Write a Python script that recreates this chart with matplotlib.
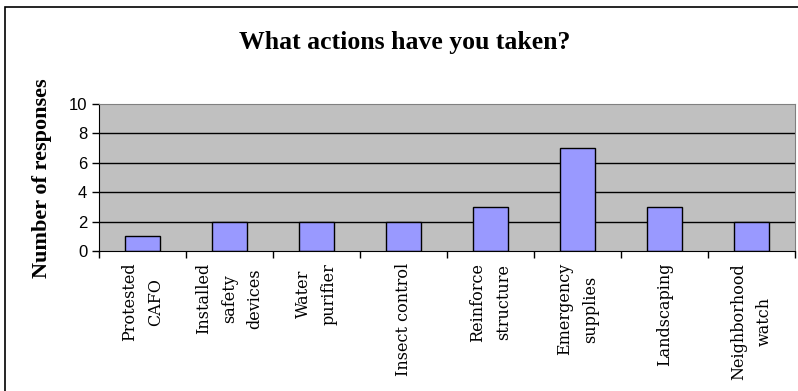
import matplotlib.pyplot as plt
from matplotlib.patches import Rectangle
import numpy as np

actions = ['Protested\nCAFO', 'Installed\nsafety\ndevices', 'Water\npurifier',
           'Insect control', 'Reinforce\nstructure', 'Emergency\nsupplies',
           'Landscaping', 'Neighborhood\nwatch']
responses = [1, 2, 2, 2, 3, 7, 3, 2]
y_ticks = [0, 2, 4, 6, 8, 10]

fig = plt.figure(figsize=(7.98, 3.91), dpi=100)
ax = fig.add_axes([99 / 798, 1 - 251 / 391, 696 / 798, 147 / 391])

# outer chart frame
fig.patches.append(Rectangle((5 / 798, -0.1), 1.0, 1 - 7 / 391 + 0.1,
                             transform=fig.transFigure, fill=False,
                             edgecolor='black', linewidth=1.2))

x = np.arange(len(actions))
ax.set_facecolor('#C0C0C0')
ax.set_xlim(-0.5, len(actions) - 0.5)
ax.set_ylim(0, 10)
for t in y_ticks[1:-1]:
    ax.axhline(t, color='black', linewidth=1, zorder=1)
ax.bar(x, responses, width=0.4, color='#9999FF', edgecolor='black',
       linewidth=1, zorder=2)

ax.set_yticks(y_ticks)
ax.set_yticklabels([str(t) for t in y_ticks], fontfamily='Liberation Sans', fontsize=12)
ax.set_xticks(np.arange(len(actions) + 1) - 0.5)
ax.set_xticklabels([])
ax.tick_params(axis='both', direction='out', length=5, width=1, color='black')

for xi, lab in zip(x, actions):
    ax.text(xi, -0.8, lab, rotation=90, ha='center', va='top',
            multialignment='center', fontfamily='DejaVu Serif',
            fontsize=11.5, linespacing=1.65)

for side in ('top', 'right'):
    ax.spines[side].set_color('#808080')
ax.spines['left'].set_color('black')
ax.spines['bottom'].set_color('black')

fig.text(405 / 798, 1 - 42 / 391, 'What actions have you taken?',
         ha='center', va='center', fontfamily='Liberation Serif',
         fontweight='bold', fontsize=18.5)
fig.text(42 / 798, 1 - 178 / 391, 'Number of responses', rotation=90,
         ha='center', va='center', fontfamily='Liberation Serif',
         fontweight='bold', fontsize=16)

fig.savefig('out.png', dpi=100)
